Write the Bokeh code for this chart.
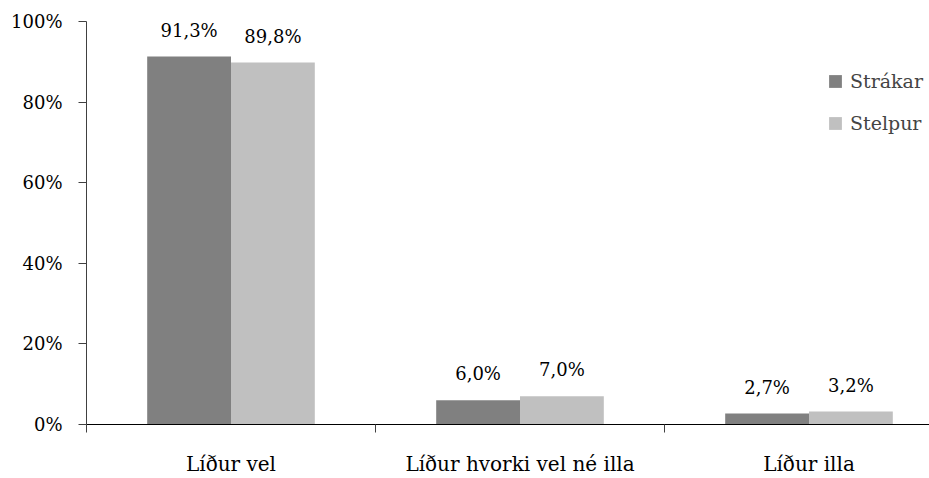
from bokeh.plotting import figure
from bokeh.models import (ColumnDataSource, Range1d, FixedTicker, PrintfTickFormatter,
                          LabelSet, Legend, LegendItem)
from bokeh.core.properties import value
from bokeh.transform import dodge
from bokeh.embed import file_html
from bokeh.resources import INLINE

# ---- data ----
categories = ["Líður vel", "Líður hvorki vel né illa", "Líður illa"]
strakar = [91.3, 6.0, 2.7]
stelpur = [89.8, 7.0, 3.2]
series_names = ["Strákar", "Stelpur"]
y_ticks = [0, 20, 40, 60, 80, 100]

FONT = "DejaVu Serif"
DARK = "#808080"
LIGHT = "#C0C0C0"

def fmt(v):
    return f"{v:.1f}".replace(".", ",") + "%"

idx = [i + 0.5 for i in range(len(categories))]
src = ColumnDataSource(dict(
    x=idx,
    s1=strakar,
    s2=stelpur,
    l1=[fmt(v) for v in strakar],
    l2=[fmt(v) for v in stelpur],
))

p = figure(width=929, height=478, output_backend="svg", toolbar_location=None,
           x_range=Range1d(0, 843 / 289.0), y_range=Range1d(0, 100),
           min_border_left=86, min_border_right=0, min_border_top=21, min_border_bottom=53)
p.outline_line_color = None
p.xgrid.visible = False
p.ygrid.visible = False
p.background_fill_color = "white"

w = 0.29
r1 = p.vbar(x=dodge("x", -w / 2, range=p.x_range), top="s1", width=w, source=src,
            fill_color=DARK, line_color=None)
r2 = p.vbar(x=dodge("x", w / 2, range=p.x_range), top="s2", width=w, source=src,
            fill_color=LIGHT, line_color=None)

for col, lab, off in (("s1", "l1", -w / 2), ("s2", "l2", w / 2)):
    ls = LabelSet(x=dodge("x", off, range=p.x_range), y=col, text=lab, source=src,
                  text_align="center", text_baseline="alphabetic", y_offset=20,
                  text_font=value(FONT), text_font_size="18px", text_color="#000000")
    p.add_layout(ls)

# y axis
yax = p.yaxis[0]
yax.ticker = FixedTicker(ticks=y_ticks)
yax.formatter = PrintfTickFormatter(format="%d%%")
yax.major_tick_out = 8
yax.major_tick_in = 0
yax.minor_tick_out = 0
yax.minor_tick_in = 0
yax.major_label_standoff = 16
yax.major_label_text_font = FONT
yax.major_label_text_font_size = "18px"
yax.major_label_text_color = "#000000"
yax.axis_line_color = "#404040"
yax.major_tick_line_color = "#404040"

# x axis
xax = p.xaxis[0]
xax.ticker = FixedTicker(ticks=idx, minor_ticks=[float(i) for i in range(len(categories) + 1)])
xax.major_label_overrides = {v: c for v, c in zip(idx, categories)}
xax.major_tick_out = 0
xax.major_tick_in = 0
xax.minor_tick_out = 8
xax.minor_tick_in = 0
xax.major_label_standoff = 19
xax.major_label_text_font = FONT
xax.major_label_text_font_size = "20px"
xax.major_label_text_color = "#000000"
xax.axis_line_color = "#000000"
xax.minor_tick_line_color = "#404040"

legend = Legend(items=[LegendItem(label=series_names[0], renderers=[r1]),
                       LegendItem(label=series_names[1], renderers=[r2])],
                location=(741, 289), orientation="vertical",
                glyph_width=16, glyph_height=16, label_standoff=7,
                label_text_font=FONT, label_text_font_size="19px",
                label_height=24, spacing=18, padding=0, margin=0,
                border_line_color=None, background_fill_alpha=0)
p.add_layout(legend)

open("out.html", "w").write(file_html(p, INLINE))
